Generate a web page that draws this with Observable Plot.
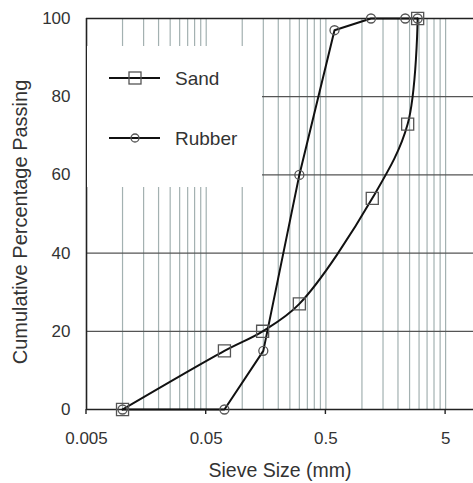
<!DOCTYPE html>
<html>
<head>
<meta charset="utf-8">
<script src="https://cdn.jsdelivr.net/npm/d3@7"></script>
<script src="https://cdn.jsdelivr.net/npm/@observablehq/plot@0.6"></script>
<style>
  html, body { margin: 0; padding: 0; background: #fff; }
  svg { display: block; }
</style>
</head>
<body>
<div id="chart"></div>
<script>
// Sieve sizes (mm) and cumulative % passing
const sandSize = [0.01, 0.071, 0.148, 0.3, 1.22, 2.41, 2.92];
const sandPass = [0, 15, 20, 27, 54, 73, 100];
const rubberSize = [0.01, 0.071, 0.15, 0.3, 0.59, 1.19, 2.3, 2.92];
const rubberPass = [0, 0, 15, 60, 97, 100, 100, 100];

const xTicks = [0.005, 0.05, 0.5, 5];
const xTickLabels = ["0.005", "0.05", "0.5", "5"];
const yTicks = [0, 20, 40, 60, 80, 100];
const xGrid = [
  0.01, 0.015, 0.02, 0.025, 0.03, 0.035, 0.04, 0.045, 0.05,
  0.1, 0.15, 0.2, 0.25, 0.3, 0.35, 0.4, 0.45, 0.5,
  1, 1.5, 2, 2.5, 3, 3.5, 4, 4.5, 5
];
const yGrid = [20, 40, 60, 80];

const sand = sandSize.map((s, i) => ({size: s, pass: sandPass[i]}));
const rubber = rubberSize.map((s, i) => ({size: s, pass: rubberPass[i]}));
const xLab = xTicks.map((v, i) => ({v, label: xTickLabels[i]}));

const font = "Liberation Sans, Arial, Helvetica, sans-serif";

const chart = Plot.plot({
  width: 473,
  height: 483,
  marginLeft: 86,
  marginRight: 0,
  marginTop: 18,
  marginBottom: 74,
  style: {fontFamily: font, color: "#333", background: "#fff"},
  x: {type: "log", domain: [0.005, 8.55], axis: null},
  y: {domain: [0, 100], axis: null},
  marks: [
    Plot.ruleX(xGrid, {y1: 0, y2: 100, stroke: "#a3b1b1", strokeWidth: 1.2, strokeOpacity: 1}),
    Plot.ruleY(yGrid, {stroke: "#555", strokeWidth: 1.2}),
    Plot.ruleY([0, 100], {stroke: "#222", strokeWidth: 1.6}),
    Plot.ruleX([0.005], {y1: 0, y2: 100, stroke: "#222", strokeWidth: 1.6}),
    Plot.text(xLab, {x: "v", text: "label", frameAnchor: "bottom", dy: 29, fontSize: 17, fill: "#333", lineAnchor: "middle"}),
    Plot.text(yTicks, {y: d => d, text: d => String(d), frameAnchor: "left", dx: -16, textAnchor: "end", fontSize: 17, fill: "#333"}),
    Plot.line(rubber, {x: "size", y: "pass", stroke: "#111", strokeWidth: 2}),
    Plot.line(sand, {x: "size", y: "pass", curve: "catmull-rom", stroke: "#111", strokeWidth: 2}),
    Plot.dot(sand, {x: "size", y: "pass", symbol: "square", r: 6.8, stroke: "#555", strokeWidth: 1.3, fill: "none"}),
    Plot.dot(rubber, {x: "size", y: "pass", symbol: "circle", r: 4.5, stroke: "#555", strokeWidth: 1.3, fill: "none"}),
    Plot.text(["Sieve Size (mm)"], {frameAnchor: "bottom", dy: 61, fontSize: 19.5, fill: "#333", lineAnchor: "middle"}),
    Plot.text(["Cumulative Percentage Passing"], {frameAnchor: "left", rotate: -90, textAnchor: "middle", dx: -66, dy: 8, fontSize: 20, fill: "#333"})
  ]
});

const svg = d3.select(chart);
// Tick marks below the x axis
const xs = chart.scale("x");
const ys = chart.scale("y");
const tg = svg.append("g");
xTicks.forEach(v => {
  const px = xs.apply(v);
  const py = ys.apply(0);
  tg.append("line").attr("x1", px).attr("x2", px).attr("y1", py).attr("y2", py + 5)
    .attr("stroke", "#222").attr("stroke-width", 1.4);
});

// Legend (white box over the grid)
const g = svg.append("g").attr("font-family", font);
g.append("rect").attr("x", 87).attr("y", 46).attr("width", 175).attr("height", 141).attr("fill", "#fff");
const items = [
  {label: "Sand", y: 78, sym: "square"},
  {label: "Rubber", y: 138, sym: "circle"}
];
items.forEach(it => {
  g.append("line").attr("x1", 109).attr("x2", 160).attr("y1", it.y).attr("y2", it.y)
    .attr("stroke", "#111").attr("stroke-width", 2);
  if (it.sym === "square") {
    g.append("rect").attr("x", 129).attr("y", it.y - 6).attr("width", 12).attr("height", 12)
      .attr("fill", "none").attr("stroke", "#555").attr("stroke-width", 1.3);
  } else {
    g.append("circle").attr("cx", 135).attr("cy", it.y).attr("r", 4)
      .attr("fill", "none").attr("stroke", "#555").attr("stroke-width", 1.3);
  }
  g.append("text").attr("x", 175).attr("y", it.y).attr("dy", "0.35em")
    .attr("text-anchor", "start")
    .attr("font-size", 19).attr("fill", "#333").text(it.label);
});

document.getElementById("chart").appendChild(chart);
</script>
</body>
</html>
